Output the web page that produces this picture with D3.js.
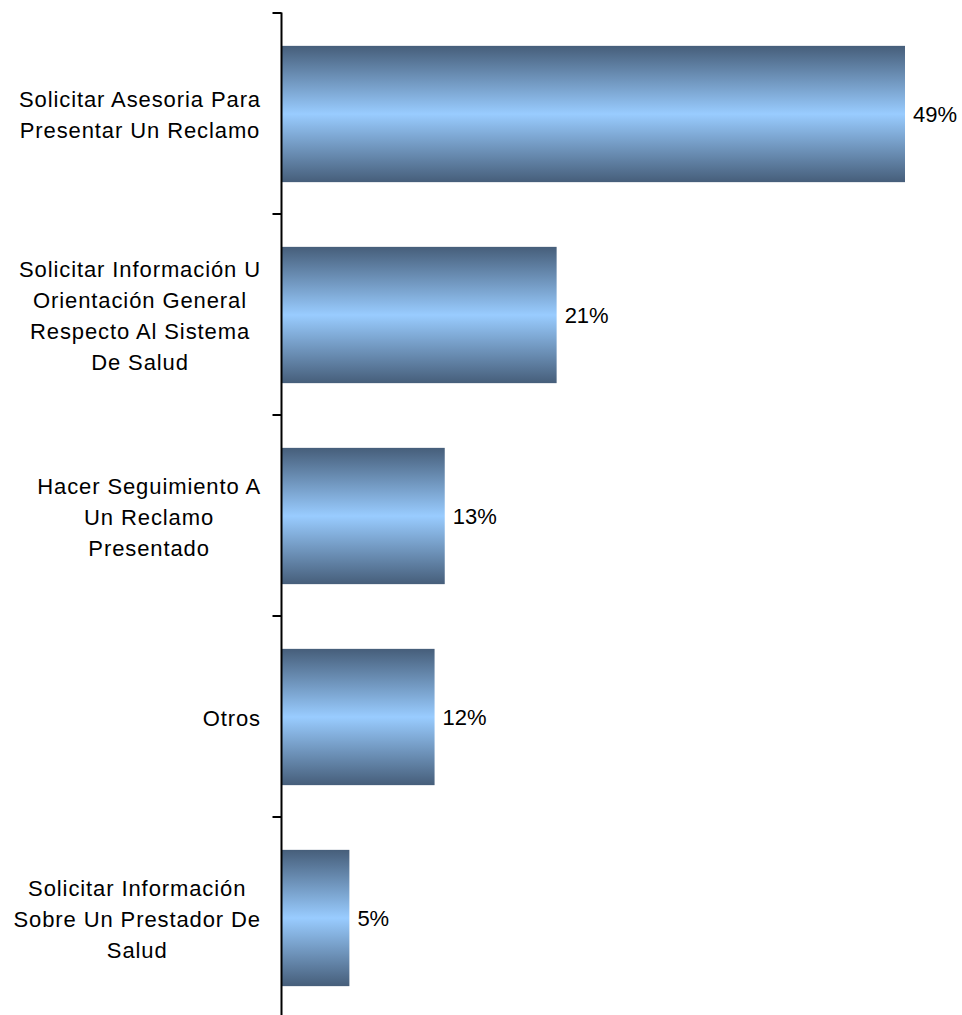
<!DOCTYPE html>
<html>
<head>
<meta charset="utf-8">
<script src="https://cdn.jsdelivr.net/npm/d3@7"></script>
<style>
  html, body { margin: 0; padding: 0; background: #fff; }
  svg { display: block; }
</style>
</head>
<body>
<script>
const categories = [
  ["Solicitar Asesoria Para", "Presentar Un Reclamo"],
  ["Solicitar Información U", "Orientación General", "Respecto Al Sistema", "De Salud"],
  ["Hacer Seguimiento A", "Un Reclamo", "Presentado"],
  ["Otros"],
  ["Solicitar Información", "Sobre Un Prestador De", "Salud"]
];
const values = [49.0, 21.6, 12.8, 12.0, 5.3];
const valueLabels = ["49%", "21%", "13%", "12%", "5%"];

const W = 962, H = 1015;
const svg = d3.select("body").append("svg").attr("width", W).attr("height", H);

const defs = svg.append("defs");
const grad = defs.append("linearGradient").attr("id", "barGrad")
  .attr("x1", 0).attr("y1", 0).attr("x2", 0).attr("y2", 1);
grad.append("stop").attr("offset", "0%").attr("stop-color", "#465e7a");
grad.append("stop").attr("offset", "50%").attr("stop-color", "#99ccff");
grad.append("stop").attr("offset", "100%").attr("stop-color", "#465e7a");

const axisX = 282;
const y = d3.scaleBand().domain(d3.range(categories.length)).range([12.5, 1017.5]).paddingInner(0.322).paddingOuter(0.161);
const x = d3.scaleLinear().domain([0, 49]).range([axisX, 905]);

// bars
svg.append("g").selectAll("rect").data(values).join("rect")
  .attr("x", axisX)
  .attr("y", (d, i) => y(i) + 1)
  .attr("width", d => x(d) - axisX)
  .attr("height", y.bandwidth())
  .attr("fill", "url(#barGrad)");

// value labels
svg.append("g").selectAll("text").data(values).join("text")
  .attr("x", d => x(d) + 8)
  .attr("y", (d, i) => y(i) + y.bandwidth() / 2 + 1)
  .attr("dy", "0.35em")
  .attr("font-family", "Liberation Sans, Arial, sans-serif")
  .attr("font-size", 22)
  .attr("fill", "#000")
  .text((d, i) => valueLabels[i]);

// axis
const yAxisScale = d3.scaleLinear().domain([0, categories.length]).range([12.5, 1017.5]);
const axis = d3.axisLeft(yAxisScale).tickValues(d3.range(categories.length + 1)).tickSize(9).tickFormat("");
const ag = svg.append("g").attr("transform", `translate(${axisX - 0.5},0)`).call(axis);
ag.select(".domain").attr("stroke", "#000").attr("stroke-width", 2).attr("d", `M0,12.5V1015`);
ag.selectAll(".tick line").attr("stroke", "#000").attr("stroke-width", 2);

// category labels
const lineH = 31;
const rightEdge = 261;
const lg = svg.append("g")
  .attr("font-family", "Liberation Sans, Arial, sans-serif")
  .attr("font-size", 22)
  .attr("letter-spacing", "0.9px")
  .attr("fill", "#000");
categories.forEach((lines, i) => {
  const cy = y(i) + y.bandwidth() / 2 + 2;
  const t = lg.append("text").attr("text-anchor", "middle");
  const spans = lines.map((ln, k) => t.append("tspan")
    .attr("x", 0)
    .attr("y", cy + (k - (lines.length - 1) / 2) * lineH)
    .attr("dy", "0.35em")
    .text(ln));
  let maxW = 0;
  spans.forEach(s => { maxW = Math.max(maxW, s.node().getComputedTextLength()); });
  spans.forEach(s => s.attr("x", rightEdge - maxW / 2));
});
</script>
</body>
</html>
